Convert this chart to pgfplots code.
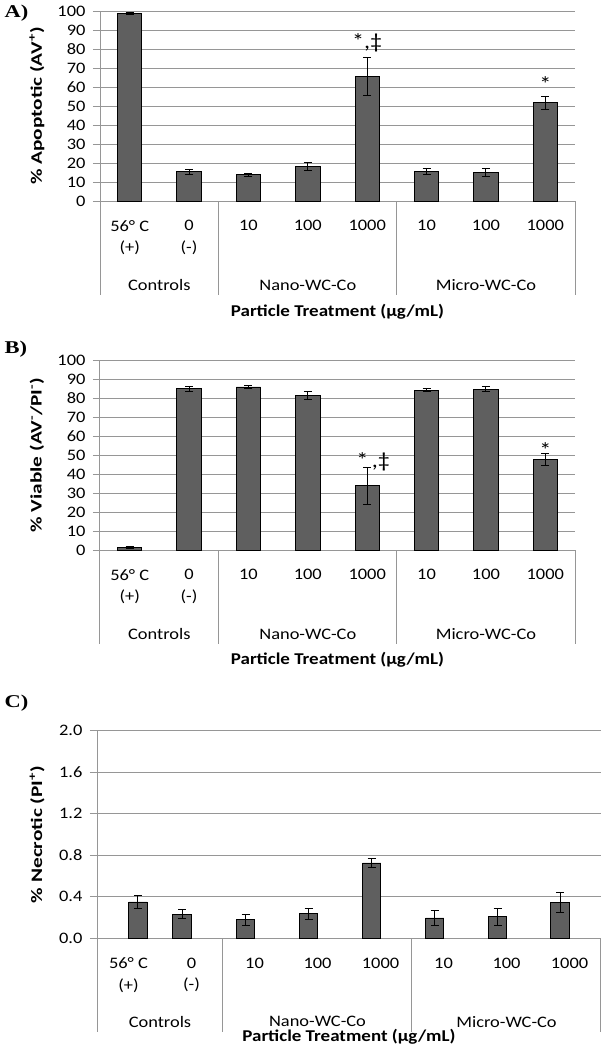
\documentclass[border=0pt]{standalone}
\usepackage{fontspec}
\setmainfont{Carlito}[FakeStretch=1.15]
\newfontfamily\ylabfont{Carlito}[FakeStretch=1.33]
\newfontfamily\panelfont{Liberation Serif}[FakeStretch=1.25]
\usepackage{pgfplots}
\usepackage{pgfplotstable}
\pgfplotsset{compat=1.18}
\definecolor{gridgray}{RGB}{150,150,150}
\definecolor{barfill}{RGB}{95,95,95}

\pgfplotstableread{
x y e
0 98.6 0.7
1 15.3 1.4
2 13.8 0.7
3 18.3 2.1
4 65.3 10.0
5 15.4 1.6
6 14.9 2.0
7 51.7 3.5
}\dataA
\pgfplotstableread{
x y e
0 1.4 0.7
1 84.9 1.3
2 85.8 0.8
3 81.4 2.0
4 33.8 9.7
5 84.2 1.0
6 84.7 1.5
7 47.7 3.2
}\dataB
\pgfplotstableread{
x y e
0.15 0.350 0.065
0.85 0.232 0.042
1.86 0.180 0.052
2.86 0.236 0.053
3.86 0.726 0.042
4.86 0.196 0.068
5.86 0.208 0.083
6.85 0.345 0.095
}\dataC

\newcommand{\tickfont}{\fontsize{16}{21.5}\selectfont}
\newcommand{\labfont}{\fontsize{16.5}{20}\selectfont\bfseries}
\newcommand{\starfont}{\fontsize{21}{22}\selectfont}

\pgfplotsset{
  panel/.style={
    scale only axis,
    clip=false,
    xmin=-0.5, xmax=7.5, ymin=0,
    axis x line*=bottom, axis y line*=left,
    axis line style={-, draw=gridgray, line width=1pt},
    ymajorgrids,
    grid style={draw=gridgray, line width=1pt},
    xtick={0,...,7},
    xticklabels={{56° C\\(+)},{0\\(-)},10,100,1000,10,100,1000},
    xtick style={draw=none},
    ytick style={draw=gridgray, line width=1pt},
    tick align=outside,
    major tick length=7pt,
    tick label style={font=\tickfont},
    xticklabel style={align=center, anchor=north, yshift=-9pt},
    yticklabel style={anchor=east, xshift=-4pt},
    /pgf/number format/assume math mode=true,
    ybar,
  },
  barstyle/.style={
    fill=barfill, draw=black, line width=0.9pt,
    error bars/.cd, y dir=both, y explicit,
    error bar style={line width=1pt, black},
    error mark options={rotate=90, mark size=4pt, line width=1pt, black},
  },
}

\begin{document}
\begin{tikzpicture}[x=1pt,y=1pt]
\useasboundingbox (0,0) rectangle (602,-1050);

% ---------------- Panel A
\node[anchor=west, font=\panelfont\fontsize{18}{20}\selectfont\bfseries] at (1,-13) {A)};
\begin{axis}[panel, at={(100pt,-201pt)}, anchor=south west,
  width=475pt, height=190pt, ymax=100, ytick={0,10,...,100}]
\addplot[bar width=0.41, barstyle] table[x=x, y=y, y error=e] {\dataA};
\draw[gridgray, line width=1pt] (axis cs:-0.5,0) -- ++(0pt,-94pt);
\draw[gridgray, line width=1pt] (axis cs:1.5,0) -- ++(0pt,-94pt);
\draw[gridgray, line width=1pt] (axis cs:4.5,0) -- ++(0pt,-94pt);
\draw[gridgray, line width=1pt] (axis cs:7.5,0) -- ++(0pt,-94pt);
\node[font=\tickfont] at ([yshift=-84pt]axis cs:0.5,0) {Controls};
\node[font=\tickfont] at ([yshift=-84pt]axis cs:3,0) {Nano-WC-Co};
\node[font=\tickfont] at ([yshift=-84pt]axis cs:6,0) {Micro-WC-Co};
\node[font=\labfont] at ([yshift=-111pt]axis cs:3.5,0) {Particle Treatment (µg/mL)};
\node[font=\ylabfont\fontsize{16}{19}\selectfont\bfseries, rotate=90] at (axis description cs:-0.1326,0.5) {\% Apoptotic (AV\textsuperscript{+})};
\node[font=\starfont] at (axis cs:4,83.5) {*,‡};
\node[font=\starfont] at (axis cs:7,61.5) {*};
\end{axis}

% ---------------- Panel B
\node[anchor=west, font=\panelfont\fontsize{18}{20}\selectfont\bfseries] at (1,-349) {B)};
\begin{axis}[panel, at={(100pt,-550pt)}, anchor=south west,
  width=475pt, height=190pt, ymax=100, ytick={0,10,...,100}]
\addplot[bar width=0.41, barstyle] table[x=x, y=y, y error=e] {\dataB};
\draw[gridgray, line width=1pt] (axis cs:-0.5,0) -- ++(0pt,-94pt);
\draw[gridgray, line width=1pt] (axis cs:1.5,0) -- ++(0pt,-94pt);
\draw[gridgray, line width=1pt] (axis cs:4.5,0) -- ++(0pt,-94pt);
\draw[gridgray, line width=1pt] (axis cs:7.5,0) -- ++(0pt,-94pt);
\node[font=\tickfont] at ([yshift=-84pt]axis cs:0.5,0) {Controls};
\node[font=\tickfont] at ([yshift=-84pt]axis cs:3,0) {Nano-WC-Co};
\node[font=\tickfont] at ([yshift=-84pt]axis cs:6,0) {Micro-WC-Co};
\node[font=\labfont] at ([yshift=-110pt]axis cs:3.5,0) {Particle Treatment (µg/mL)};
\node[font=\ylabfont\fontsize{16}{19}\selectfont\bfseries, rotate=90] at (axis description cs:-0.1326,0.5) {\% Viable (AV\textsuperscript{-}/PI\textsuperscript{-})};
\node[font=\starfont] at (axis cs:4.1,46.5) {*\,,‡};
\node[font=\starfont] at (axis cs:7,52.5) {*};
\end{axis}

% ---------------- Panel C
\node[anchor=west, font=\panelfont\fontsize{18}{20}\selectfont\bfseries] at (1,-703) {C)};
\begin{axis}[panel, at={(97pt,-938.3pt)}, anchor=south west,
  width=504pt, height=207.6pt, ymax=2, ytick={0,0.4,...,2.0},
  yticklabel style={/pgf/number format/.cd, fixed, fixed zerofill, precision=1}]
\addplot[bar width=0.29, barstyle] table[x=x, y=y, y error=e] {\dataC};
\draw[gridgray, line width=1pt] (axis cs:-0.5,0) -- ++(0pt,-93.4pt);
\draw[gridgray, line width=1pt] (axis cs:1.5,0) -- ++(0pt,-93.4pt);
\draw[gridgray, line width=1pt] (axis cs:4.5,0) -- ++(0pt,-93.4pt);
\draw[gridgray, line width=1pt] (axis cs:7.5,0) -- ++(0pt,-93.4pt);
\node[font=\tickfont] at ([yshift=-83.4pt]axis cs:0.5,0) {Controls};
\node[font=\tickfont] at ([yshift=-83.4pt]axis cs:3,0) {Nano-WC-Co};
\node[font=\tickfont] at ([yshift=-83.4pt]axis cs:6,0) {Micro-WC-Co};
\node[font=\labfont] at ([yshift=-98.4pt]axis cs:3.5,0) {Particle Treatment (µg/mL)};
\node[font=\ylabfont\fontsize{16}{19}\selectfont\bfseries, rotate=90] at (axis description cs:-0.119,0.5) {\% Necrotic (PI\textsuperscript{+})};
\end{axis}
\end{tikzpicture}
\end{document}
